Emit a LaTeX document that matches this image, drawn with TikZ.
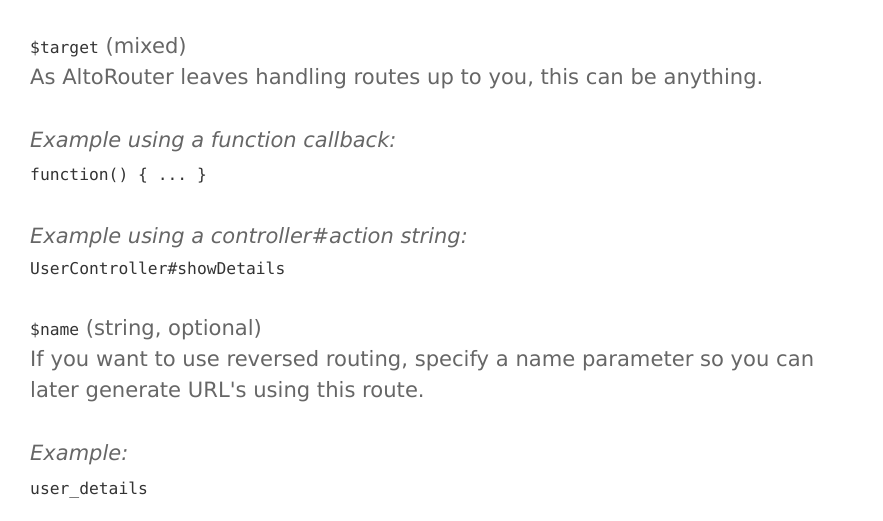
\documentclass[tikz,border=0pt]{standalone}
\usepackage{fontspec}
\setmainfont{DejaVu Sans}
\setmonofont{DejaVu Sans Mono}
\usepackage{xcolor}
\usetikzlibrary{positioning}

\definecolor{bodygray}{HTML}{666666}
\definecolor{codegray}{HTML}{333333}

\begin{document}
\begin{tikzpicture}[x=1pt, y=-1pt]
        % Define styles
        \tikzset{
            line/.style={anchor=base west, inner sep=0pt, text=bodygray, font=\fontsize{21.1}{25}\selectfont},
            example/.style={line, font=\fontsize{21}{25}\selectfont\itshape},
            code/.style={anchor=base west, inner sep=0pt, text=codegray, font=\fontsize{16.3}{20}\ttfamily}
        }
        \newcommand{\param}[1]{{\fontsize{16.3}{20}\ttfamily\color{codegray}\$#1}}

        % Page frame
        \useasboundingbox (0,0) rectangle (883,520);

        % Target parameter
        \node[line] (target) at (30,53) {\param{target} (mixed)};
        \node[line] (targetdesc) at (30,84) {As AltoRouter leaves handling routes up to you, this can be anything.};
        \node[example] (callback) at (30,147) {Example using a function callback:};
        \node[code] (callbackcode) at (30,180) {function() \{ ... \}};
        \node[example] (action) at (30,243) {Example using a controller\#action string:};
        \node[code] (actioncode) at (30,274) {UserController\#showDetails};

        % Name parameter
        \node[line] (name) at (30,335) {\param{name} (string, optional)};
        \node[line] (namedesc) at (30,366) {If you want to use reversed routing, specify a name parameter so you can};
        \node[line] (namedesc2) at (30,397) {later generate URL\textquotesingle s using this route.};
        \node[example] (nameexample) at (30,460) {Example:};
        \node[code] (namecode) at (30,494) {user\_details};
    \end{tikzpicture}
\end{document}
